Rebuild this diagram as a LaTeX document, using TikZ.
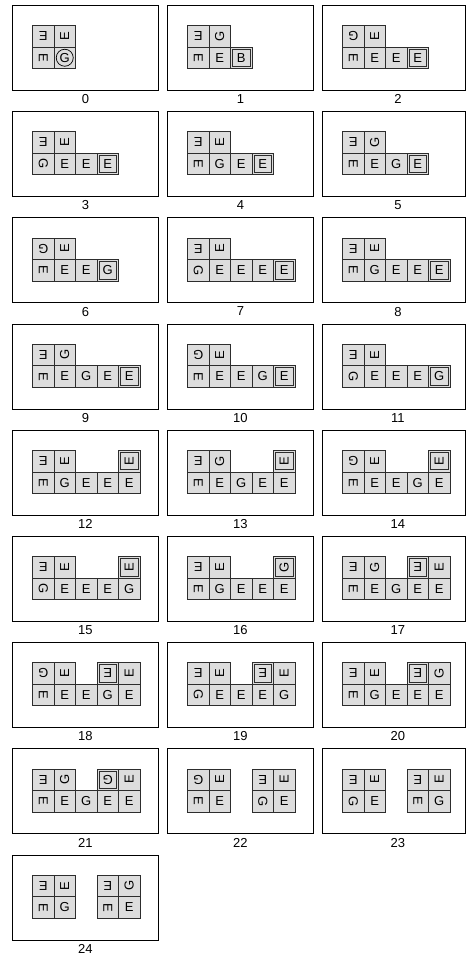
\documentclass[tikz,border=0pt]{standalone}
\usepackage{fontspec}
\setmainfont{Liberation Sans}
\usetikzlibrary{positioning}

\definecolor{cellgrey}{RGB}{221,221,221}
\definecolor{edgegrey}{RGB}{45,45,45}

\tikzset{
  panelbox/.style={draw=black, line width=0.9pt, inner sep=0pt, anchor=north west, minimum height=85pt},
  tile/.style={draw=edgegrey, line width=0.6pt, fill=cellgrey, minimum size=21.5pt, inner sep=0pt,
    font=\fontsize{13}{15}\selectfont},
  tilehl/.style={draw=edgegrey, line width=0.8pt, minimum size=17.5pt, inner sep=0pt},
  tilering/.style={circle, draw=black, line width=0.7pt, minimum size=17pt, inner sep=0pt},
  numlbl/.style={inner sep=0pt, font=\fontsize{13}{15}\selectfont}
}

% one panel: step number, then col/row/letter/angle/mark (n plain, h framed, o ringed)
\newcommand\steppanel[2]{%
  \pgfmathtruncatemacro\pc{mod(#1,3)}
  \pgfmathtruncatemacro\pr{div(#1,3)}
  \pgfmathsetmacro\px{12+155*\pc}
  \pgfmathsetmacro\py{5+106.2*\pr}
  \pgfmathsetmacro\pw{ifthenelse(\pc==2,143,146)}
  \pgfmathsetmacro\lx{ifthenelse(\pc==2,4,0)}
  \node[panelbox, minimum width=\pw pt] (p#1) at (\px,\py) {};
  \node[numlbl, below=3.5pt of p#1, xshift=\lx pt] (lbl#1) {#1};
  \foreach \c/\r/\l/\a/\m in {#2} {
    \node[tile, rotate=\a] (t#1-\c-\r) at (\px+31.25+21.5*\c, \py+31.25+21.5*\r) {\l};
    \if h\m \node[tilehl] (f#1) at (t#1-\c-\r) {}; \fi
    \if o\m \node[tilering] (o#1) at (t#1-\c-\r) {}; \fi
  }%
}

\begin{document}
\begin{tikzpicture}[x=1pt, y=-1pt]

  \useasboundingbox (0,0) rectangle (466,955);

  \steppanel{0}{0/0/E/180/n, 1/0/E/90/n, 0/1/E/270/n, 1/1/G/0/o}
  \steppanel{1}{0/0/E/180/n, 1/0/G/90/n, 0/1/E/270/n, 1/1/E/0/n, 2/1/B/0/h}
  \steppanel{2}{0/0/G/180/n, 1/0/E/90/n, 0/1/E/270/n, 1/1/E/0/n, 2/1/E/0/n, 3/1/E/0/h}
  \steppanel{3}{0/0/E/180/n, 1/0/E/90/n, 0/1/G/270/n, 1/1/E/0/n, 2/1/E/0/n, 3/1/E/0/h}
  \steppanel{4}{0/0/E/180/n, 1/0/E/90/n, 0/1/E/270/n, 1/1/G/0/n, 2/1/E/0/n, 3/1/E/0/h}
  \steppanel{5}{0/0/E/180/n, 1/0/G/90/n, 0/1/E/270/n, 1/1/E/0/n, 2/1/G/0/n, 3/1/E/0/h}
  \steppanel{6}{0/0/G/180/n, 1/0/E/90/n, 0/1/E/270/n, 1/1/E/0/n, 2/1/E/0/n, 3/1/G/0/h}
  \steppanel{7}{0/0/E/180/n, 1/0/E/90/n, 0/1/G/270/n, 1/1/E/0/n, 2/1/E/0/n, 3/1/E/0/n, 4/1/E/0/h}
  \steppanel{8}{0/0/E/180/n, 1/0/E/90/n, 0/1/E/270/n, 1/1/G/0/n, 2/1/E/0/n, 3/1/E/0/n, 4/1/E/0/h}
  \steppanel{9}{0/0/E/180/n, 1/0/G/90/n, 0/1/E/270/n, 1/1/E/0/n, 2/1/G/0/n, 3/1/E/0/n, 4/1/E/0/h}
  \steppanel{10}{0/0/G/180/n, 1/0/E/90/n, 0/1/E/270/n, 1/1/E/0/n, 2/1/E/0/n, 3/1/G/0/n, 4/1/E/0/h}
  \steppanel{11}{0/0/E/180/n, 1/0/E/90/n, 0/1/G/270/n, 1/1/E/0/n, 2/1/E/0/n, 3/1/E/0/n, 4/1/G/0/h}
  \steppanel{12}{0/0/E/180/n, 1/0/E/90/n, 4/0/E/90/h, 0/1/E/270/n, 1/1/G/0/n, 2/1/E/0/n, 3/1/E/0/n, 4/1/E/0/n}
  \steppanel{13}{0/0/E/180/n, 1/0/G/90/n, 4/0/E/90/h, 0/1/E/270/n, 1/1/E/0/n, 2/1/G/0/n, 3/1/E/0/n, 4/1/E/0/n}
  \steppanel{14}{0/0/G/180/n, 1/0/E/90/n, 4/0/E/90/h, 0/1/E/270/n, 1/1/E/0/n, 2/1/E/0/n, 3/1/G/0/n, 4/1/E/0/n}
  \steppanel{15}{0/0/E/180/n, 1/0/E/90/n, 4/0/E/90/h, 0/1/G/270/n, 1/1/E/0/n, 2/1/E/0/n, 3/1/E/0/n, 4/1/G/0/n}
  \steppanel{16}{0/0/E/180/n, 1/0/E/90/n, 4/0/G/90/h, 0/1/E/270/n, 1/1/G/0/n, 2/1/E/0/n, 3/1/E/0/n, 4/1/E/0/n}
  \steppanel{17}{0/0/E/180/n, 1/0/G/90/n, 3/0/E/180/h, 4/0/E/90/n, 0/1/E/270/n, 1/1/E/0/n, 2/1/G/0/n, 3/1/E/0/n, 4/1/E/0/n}
  \steppanel{18}{0/0/G/180/n, 1/0/E/90/n, 3/0/E/180/h, 4/0/E/90/n, 0/1/E/270/n, 1/1/E/0/n, 2/1/E/0/n, 3/1/G/0/n, 4/1/E/0/n}
  \steppanel{19}{0/0/E/180/n, 1/0/E/90/n, 3/0/E/180/h, 4/0/E/90/n, 0/1/G/270/n, 1/1/E/0/n, 2/1/E/0/n, 3/1/E/0/n, 4/1/G/0/n}
  \steppanel{20}{0/0/E/180/n, 1/0/E/90/n, 3/0/E/180/h, 4/0/G/90/n, 0/1/E/270/n, 1/1/G/0/n, 2/1/E/0/n, 3/1/E/0/n, 4/1/E/0/n}
  \steppanel{21}{0/0/E/180/n, 1/0/G/90/n, 3/0/G/180/h, 4/0/E/90/n, 0/1/E/270/n, 1/1/E/0/n, 2/1/G/0/n, 3/1/E/0/n, 4/1/E/0/n}
  \steppanel{22}{0/0/G/180/n, 1/0/E/90/n, 3/0/E/180/n, 4/0/E/90/n, 0/1/E/270/n, 1/1/E/0/n, 3/1/G/270/n, 4/1/E/0/n}
  \steppanel{23}{0/0/E/180/n, 1/0/E/90/n, 3/0/E/180/n, 4/0/E/90/n, 0/1/G/270/n, 1/1/E/0/n, 3/1/E/270/n, 4/1/G/0/n}
  \steppanel{24}{0/0/E/180/n, 1/0/E/90/n, 3/0/E/180/n, 4/0/G/90/n, 0/1/E/270/n, 1/1/G/0/n, 3/1/E/270/n, 4/1/E/0/n}

\end{tikzpicture}
\end{document}
